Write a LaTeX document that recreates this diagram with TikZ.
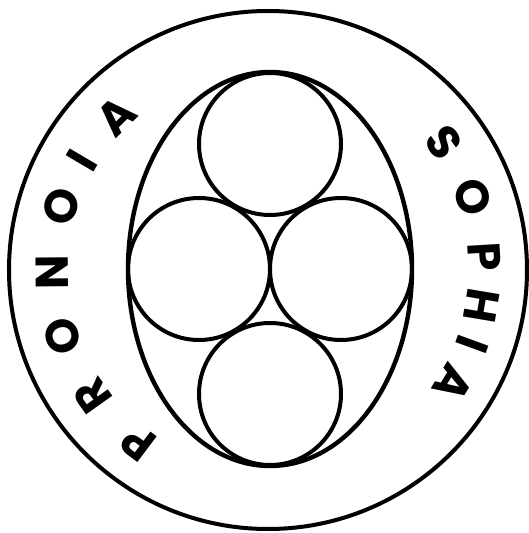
\documentclass[tikz,border=0pt]{standalone}
\usepackage{fontspec}
\setsansfont{Poppins}
\usetikzlibrary{shapes.geometric}

\begin{document}
\begin{tikzpicture}[x=1pt, y=1pt,
      ring/.style={circle, draw, line width=4pt, inner sep=0pt, minimum size=518pt},
      egg/.style={ellipse, draw, line width=4.4pt, inner sep=0pt, minimum width=284pt, minimum height=394pt},
      ball/.style={circle, draw, line width=4pt, inner sep=0pt, minimum size=142pt},
      letter/.style={inner sep=0pt, font=\sffamily\bfseries\fontsize{46}{48}\selectfont}
    ]
    \useasboundingbox (-268,-263) rectangle (260,270);
    \node[ring] (outer) at (0,0) {};
    \node[egg] (egg) at (2,1) {};
    \node[ball] (top) at (2,126) {};
    \node[ball] (left) at (-69,1) {};
    \node[ball] (right) at (73,1) {};
    \node[ball] (bottom) at (2,-124) {};
    % lettering, tops outward, running clockwise
    \foreach \ch/\ang [count=\i] in {P/233,R/215.5,O/198,N/180.5,O/163,I/149.5,A/134.5}{%
      \node[letter, rotate=\ang-90] (pronoia\i) at (\ang:216) {\ch};
    }
    \foreach \ch/\ang [count=\i] in {S/36,O/19.5,P/3.5,H/-9.5,I/-20,A/-31.5}{%
      \node[letter, rotate=\ang-90] (sophia\i) at (\ang:217) {\ch};
    }
  \end{tikzpicture}
\end{document}
